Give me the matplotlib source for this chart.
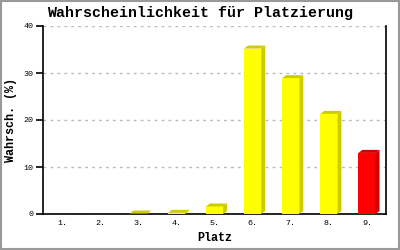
import matplotlib
matplotlib.use("Agg")
import matplotlib.pyplot as plt
from matplotlib.patches import Polygon, Rectangle

places = ["1.", "2.", "3.", "4.", "5.", "6.", "7.", "8.", "9."]
probs = [0.0, 0.0, 0.1, 0.25, 1.6, 35.2, 28.9, 21.3, 13.0]
front_colors = ["#FFFF00"] * 8 + ["#FF0000"]
side_colors = ["#CCCC00"] * 8 + ["#CC0000"]
yticks = [0, 10, 20, 30, 40]

mono = ["Liberation Mono", "DejaVu Sans Mono"]

fig = plt.figure(figsize=(4, 2.5), dpi=100)
fig.patch.set_facecolor("white")
fig.patches.append(Rectangle((0.002, 0.003), 0.995, 0.992, transform=fig.transFigure,
                             fill=False, edgecolor="#999999", linewidth=1.5))
ax = fig.add_axes([0.1075, 0.144, 0.8575, 0.752])
x = list(range(len(places)))
ax.set_xlim(-0.5, len(places) - 0.5)
ax.set_ylim(0, 40)

ax.yaxis.grid(True, color="#BBBBBB", linestyle=(0, (2, 3)), linewidth=1)
ax.set_axisbelow(True)
ax.spines["top"].set_visible(False)
for s in ["left", "bottom", "right"]:
    ax.spines[s].set_linewidth(1.2)
    ax.spines[s].set_color("black")

width = 0.45
ax.bar(x, probs, width=width, color=front_colors, linewidth=0, zorder=3)

# 3D side and top faces in pixel units
fig.canvas.draw()
dx, dy = 4, 3
for xi, v, sc in zip(x, probs, side_colors):
    if v <= 0:
        continue
    (x0, y0) = ax.transData.transform((xi - width / 2, 0))
    (x1, y1) = ax.transData.transform((xi + width / 2, v))
    top = Polygon([(x0, y1), (x1, y1), (x1 + dx, y1 + dy), (x0 + dx, y1 + dy)],
                  closed=True, facecolor=sc, edgecolor="none", transform=None, zorder=2)
    side = Polygon([(x1, y0), (x1, y1), (x1 + dx, y1 + dy), (x1 + dx, y0 + dy)],
                   closed=True, facecolor=sc, edgecolor="none", transform=None, zorder=2)
    fig.patches.append(top)
    fig.patches.append(side)

ax.set_xticks(x)
ax.set_xticklabels(places, family=mono, fontsize=6)
ax.tick_params(axis="x", length=0, pad=4)
ax.set_yticks(yticks)
ax.set_yticklabels([str(t) for t in yticks], family=mono, fontsize=6)
ax.tick_params(axis="y", length=5, width=1.2, direction="out", pad=2)

fig.text(0.5, 0.948, "Wahrscheinlichkeit für Platzierung", family=mono, fontsize=10.8,
         fontweight="bold", ha="center", va="center")
ax.set_xlabel("Platz", family=mono, fontsize=8.5, fontweight="bold")
ax.xaxis.set_label_coords(0.5, -0.128)
ax.xaxis.label.set_va("center")
ax.set_ylabel("Wahrsch. (%)", family=mono, fontsize=8.5, fontweight="bold")
ax.yaxis.set_label_coords(-0.093, 0.5)
ax.yaxis.label.set_va("center")

fig.savefig("out.png", dpi=100)
